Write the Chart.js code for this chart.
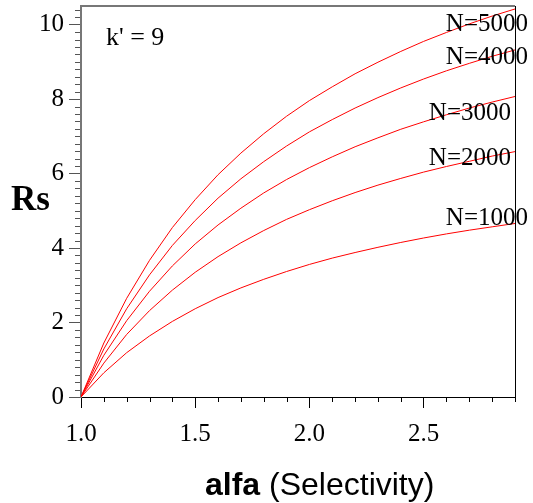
<!DOCTYPE html>
<html>
<head>
<meta charset="utf-8">
<script src="https://cdn.jsdelivr.net/npm/chart.js@4"></script>
<style>
  html, body { margin: 0; padding: 0; background: #fff; }
  #wrap { width: 533px; height: 503px; }
</style>
</head>
<body>
<div id="wrap"><canvas id="rsChart" width="533" height="503"></canvas></div>
<script>
// selectivity values (x) and resolution for each plate count
const alfa = [1.0, 1.1, 1.2, 1.3, 1.4, 1.5, 1.6, 1.7, 1.8, 1.9, 2.0, 2.1, 2.2, 2.3, 2.4, 2.5, 2.6, 2.7, 2.8, 2.9];
const rsN1000 = [0, 0.65, 1.19, 1.64, 2.03, 2.37, 2.67, 2.93, 3.16, 3.37, 3.56, 3.73, 3.88, 4.02, 4.15, 4.27, 4.38, 4.48, 4.57, 4.66];
const rsN2000 = [0, 0.91, 1.68, 2.32, 2.87, 3.35, 3.77, 4.14, 4.47, 4.77, 5.03, 5.27, 5.49, 5.69, 5.87, 6.04, 6.19, 6.33, 6.47, 6.59];
const rsN3000 = [0, 1.12, 2.05, 2.84, 3.52, 4.11, 4.62, 5.07, 5.48, 5.84, 6.16, 6.45, 6.72, 6.96, 7.19, 7.39, 7.58, 7.76, 7.92, 8.07];
const rsN4000 = [0, 1.29, 2.37, 3.28, 4.07, 4.74, 5.34, 5.86, 6.32, 6.74, 7.12, 7.45, 7.76, 8.04, 8.30, 8.54, 8.76, 8.96, 9.15, 9.32];
const rsN5000 = [0, 1.45, 2.65, 3.67, 4.55, 5.30, 5.97, 6.55, 7.07, 7.54, 7.96, 8.33, 8.68, 8.99, 9.28, 9.55, 9.79, 10.02, 10.23, 10.42];
const seriesNames = ['N=1000', 'N=2000', 'N=3000', 'N=4000', 'N=5000'];

const xTicks = [1.0, 1.5, 2.0, 2.5];
const yTicks = [0, 2, 4, 6, 8, 10];

const serif = 'Liberation Serif, Times New Roman, serif';
const sans = 'Liberation Sans, Arial, sans-serif';

// where the curve names sit (pixels, right aligned)
const curveLabels = [
    { text: 'N=1000', x: 528, y: 218 },
    { text: 'N=2000', x: 511, y: 158 },
    { text: 'N=3000', x: 511, y: 113 },
    { text: 'N=4000', x: 528, y: 57 },
    { text: 'N=5000', x: 528, y: 24 }
];

function toPoints(ys) {
    return ys.map((y, i) => ({ x: alfa[i], y: y }));
}

const allSeries = [rsN1000, rsN2000, rsN3000, rsN4000, rsN5000];

const decorPlugin = {
    id: 'decor',
    afterDraw(chart) {
        const ctx = chart.ctx;
        const a = chart.chartArea;
        const xs = chart.scales.x, ys = chart.scales.y;
        ctx.save();

        // top (gray) and right (black) frame
        ctx.strokeStyle = '#777';
        ctx.lineWidth = 2;
        ctx.beginPath();
        ctx.moveTo(a.left - 1, a.top);
        ctx.lineTo(a.right, a.top);
        ctx.stroke();
        ctx.strokeStyle = '#000';
        ctx.lineWidth = 1;
        ctx.beginPath();
        ctx.moveTo(a.right + 0.5, a.top);
        ctx.lineTo(a.right + 0.5, a.bottom);
        ctx.stroke();

        // minor ticks
        ctx.strokeStyle = '#000';
        ctx.lineWidth = 1;
        for (let i = 1; i <= 19; i++) {
            const v = 1 + i * 0.1;
            if (i % 5 === 0) continue;
            const px = Math.round(xs.getPixelForValue(v)) + 0.5;
            ctx.beginPath();
            ctx.moveTo(px, a.bottom);
            ctx.lineTo(px, a.bottom + 5);
            ctx.stroke();
        }
        ctx.strokeStyle = '#555';
        for (let i = 1; i <= 52; i++) {
            if (i % 10 === 0) continue;
            const v = i * 0.2;
            const py = Math.round(ys.getPixelForValue(v)) + 0.5;
            ctx.beginPath();
            ctx.moveTo(a.left - 6, py);
            ctx.lineTo(a.left - 1, py);
            ctx.stroke();
        }

        // texts
        ctx.fillStyle = '#000';
        ctx.textBaseline = 'middle';
        ctx.font = '26px ' + serif;
        ctx.textAlign = 'left';
        ctx.fillText("k' = 9", 106, 38);

        ctx.font = '25px ' + serif;
        ctx.textAlign = 'right';
        curveLabels.forEach(l => ctx.fillText(l.text, l.x, l.y));

        ctx.textAlign = 'left';
        ctx.textBaseline = 'alphabetic';
        ctx.font = 'bold 35px ' + serif;
        ctx.fillText('Rs', 11, 210);

        ctx.font = 'bold 32px ' + sans;
        const w = ctx.measureText('alfa').width;
        ctx.fillText('alfa', 205, 495);
        ctx.font = '32px ' + sans;
        ctx.fillText(' (Selectivity)', 205 + w, 495);

        ctx.restore();
    }
};

new Chart(document.getElementById('rsChart'), {
    type: 'line',
    data: {
        datasets: allSeries.map((s, i) => ({
            label: seriesNames[i],
            data: toPoints(s),
            borderColor: '#ff0000',
            borderWidth: 1,
            pointRadius: 0,
            tension: 0,
            fill: false
        }))
    },
    options: {
        responsive: false,
        animation: false,
        layout: { padding: { top: 6, right: 18, left: 0, bottom: 0 } },
        plugins: {
            legend: { display: false },
            tooltip: { enabled: false }
        },
        scales: {
            x: {
                type: 'linear',
                min: 1.0,
                max: 2.9,
                afterBuildTicks: scale => { scale.ticks = xTicks.map(v => ({ value: v })); },
                afterFit: scale => {
                    scale.height = 106;
                    scale.paddingLeft = 0;
                    scale.paddingRight = 0;
                },
                ticks: {
                    color: '#000',
                    font: { family: serif, size: 25 },
                    padding: 11,
                    maxRotation: 0,
                    callback: v => v.toFixed(1)
                },
                grid: { drawOnChartArea: false, drawTicks: true, tickLength: 11, tickColor: '#000', tickWidth: 1 },
                border: { display: true, color: '#000', width: 1 }
            },
            y: {
                min: 0,
                max: 10.5,
                afterBuildTicks: scale => { scale.ticks = yTicks.map(v => ({ value: v })); },
                afterFit: scale => {
                    scale.width = 81;
                    scale.paddingTop = 0;
                    scale.paddingBottom = 0;
                },
                ticks: {
                    color: '#000',
                    font: { family: serif, size: 25 },
                    padding: 5
                },
                grid: { drawOnChartArea: false, drawTicks: true, tickLength: 12, tickColor: '#555', tickWidth: 1 },
                border: { display: true, color: '#777', width: 2 }
            }
        }
    },
    plugins: [decorPlugin]
});
</script>
</body>
</html>
